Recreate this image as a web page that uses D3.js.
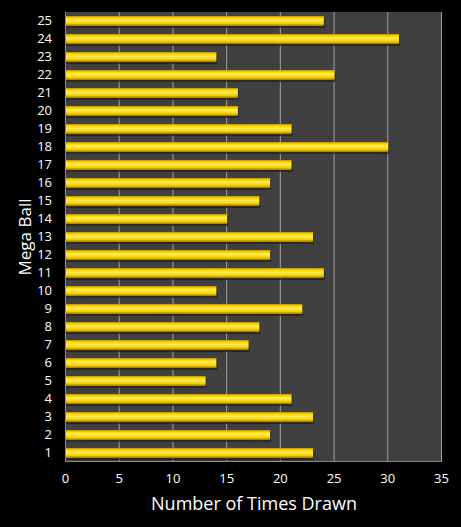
<!DOCTYPE html>
<html>
<head>
<meta charset="utf-8">
<script src="https://cdn.jsdelivr.net/npm/d3@7"></script>
<style>
  html, body { margin: 0; padding: 0; background: #000; }
  svg { display: block; }
</style>
</head>
<body>
<svg id="chart" width="461" height="527"></svg>
<script>
// Mega Ball numbers and how often each was drawn
const balls = d3.range(1, 26).map(String);
const timesDrawn = [23, 19, 23, 21, 13, 14, 17, 18, 22, 14, 24, 19, 23, 15, 18, 19, 21, 30, 21, 16, 16, 25, 14, 31, 24];
const xTicks = [0, 5, 10, 15, 20, 25, 30, 35];

const W = 461, H = 527;
const margin = { top: 12, right: 20, bottom: 65, left: 65 };

const svg = d3.select("#chart");
const font = "Open Sans, Liberation Sans, sans-serif";

// bar gradient (gold with darker edges)
const defs = svg.append("defs");
const grad = defs.append("linearGradient")
    .attr("id", "gold")
    .attr("x1", 0).attr("y1", 0).attr("x2", 0).attr("y2", 1);
grad.append("stop").attr("offset", "0%").attr("stop-color", "#b89000");
grad.append("stop").attr("offset", "20%").attr("stop-color", "#ffd800");
grad.append("stop").attr("offset", "45%").attr("stop-color", "#ffec50");
grad.append("stop").attr("offset", "75%").attr("stop-color", "#f8cc00");
grad.append("stop").attr("offset", "100%").attr("stop-color", "#9a7400");

const x = d3.scaleLinear()
    .domain([0, 35])
    .range([margin.left, W - margin.right]);

const y = d3.scaleBand()
    .domain(balls.slice().reverse())
    .range([margin.top, H - margin.bottom])
    .paddingInner(0.44)
    .paddingOuter(0.22);

// plot background
svg.append("rect")
    .attr("x", x(0))
    .attr("y", margin.top)
    .attr("width", x(35) - x(0))
    .attr("height", H - margin.bottom - margin.top)
    .attr("fill", "#404040");

// vertical gridlines
svg.append("g")
    .selectAll("line")
    .data(xTicks.slice(1))
    .enter().append("line")
    .attr("x1", d => x(d) + 0.5)
    .attr("x2", d => x(d) + 0.5)
    .attr("y1", margin.top)
    .attr("y2", H - margin.bottom)
    .attr("stroke", "#a0a0a0")
    .attr("stroke-width", 1);

// axis lines (left and bottom)
svg.append("path")
    .attr("d", `M${x(0) + 0.5},${margin.top}V${H - margin.bottom - 0.5}H${x(35)}`)
    .attr("fill", "none")
    .attr("stroke", "#8a8a8a");

// bars
const bars = balls.map((b, i) => ({ ball: b, value: timesDrawn[i] }));

svg.append("g")
    .selectAll("rect.shadow")
    .data(bars)
    .enter().append("rect")
    .attr("class", "shadow")
    .attr("x", x(0) + 1)
    .attr("y", d => y(d.ball) + 2)
    .attr("width", d => x(d.value) - x(0) + 1)
    .attr("height", y.bandwidth())
    .attr("fill", "#1e1e1e")
    .attr("opacity", 0.7);

svg.append("g")
    .selectAll("rect.bar")
    .data(bars)
    .enter().append("rect")
    .attr("class", "bar")
    .attr("x", x(0) + 1)
    .attr("y", d => y(d.ball))
    .attr("width", d => x(d.value) - x(0))
    .attr("height", y.bandwidth())
    .attr("fill", "url(#gold)");

// y axis labels
const yAxis = svg.append("g")
    .attr("transform", `translate(${x(0)},0)`)
    .call(d3.axisLeft(y).tickSize(0).tickPadding(13));
yAxis.select(".domain").remove();
yAxis.selectAll("text")
    .attr("fill", "#ffffff")
    .style("font-family", font)
    .style("font-size", "13px");

// x axis labels
const xAxis = svg.append("g")
    .attr("transform", `translate(0,${H - margin.bottom})`)
    .call(d3.axisBottom(x).tickValues(xTicks).tickSize(0).tickPadding(12));
xAxis.select(".domain").remove();
xAxis.selectAll("text")
    .attr("fill", "#ffffff")
    .style("font-family", font)
    .style("font-size", "13px");

// axis titles
svg.append("text")
    .attr("x", (x(0) + x(35)) / 2 + 1)
    .attr("y", 510)
    .attr("text-anchor", "middle")
    .attr("fill", "#ffffff")
    .style("font-family", font)
    .style("font-size", "18px")
    .text("Number of Times Drawn");

svg.append("text")
    .attr("transform", `translate(31,${(margin.top + H - margin.bottom) / 2}) rotate(-90)`)
    .attr("text-anchor", "middle")
    .attr("fill", "#ffffff")
    .style("font-family", font)
    .style("font-size", "17px")
    .text("Mega Ball");
</script>
</body>
</html>
